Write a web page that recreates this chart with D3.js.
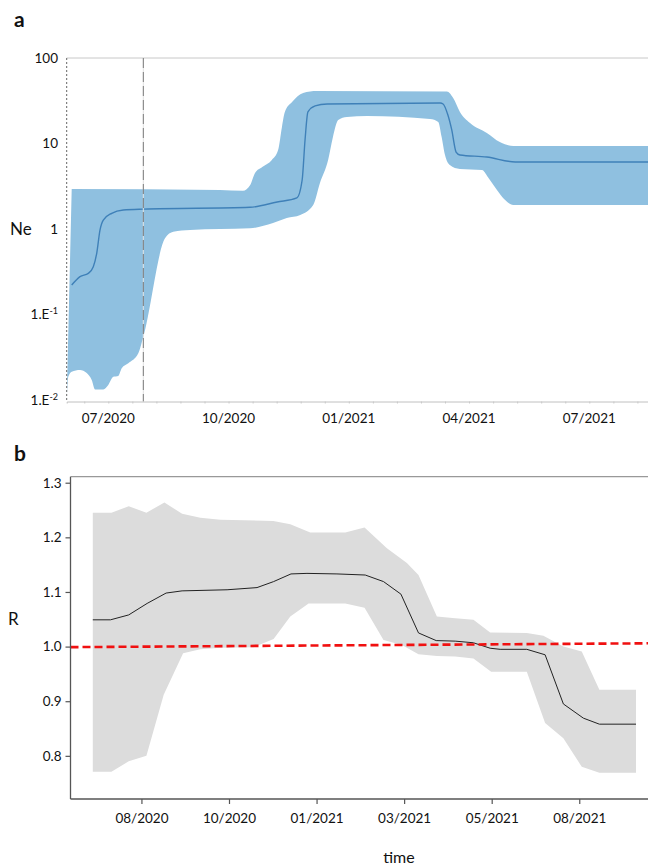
<!DOCTYPE html>
<html>
<head>
<meta charset="utf-8">
<script src="https://cdn.jsdelivr.net/npm/d3@7"></script>
<style>
  html, body { margin: 0; padding: 0; background: #fff; }
  svg { display: block; font-family: Lato, "Open Sans", sans-serif; }
</style>
</head>
<body>
<svg id="chart" width="648" height="868"></svg>
<script>
// ---------- Panel a: effective population size (Ne), log scale ----------
// Time in decimal years
const neUpper = [
  [2020.4239, 2.94], [2020.732, 2.86], [2020.780, 2.80], [2020.795, 3.27],
  [2020.805, 4.52], [2020.820, 5.31], [2020.840, 6.41], [2020.853, 8.39],
  [2020.861, 15.6], [2020.867, 23.4], [2020.882, 30.6], [2020.905, 39.0],
  [2020.934, 41.1], [2021.204, 40.5], [2021.217, 34.0], [2021.231, 23.4],
  [2021.252, 17.4], [2021.287, 13.3], [2021.314, 10.4], [2021.342, 9.35],
  [2021.622, 9.35]
];
const neLower = [
  [2020.4135, 0.0100], [2020.4168, 0.0187], [2020.4239, 0.0214], [2020.4412, 0.0224],
  [2020.4551, 0.0207], [2020.4655, 0.0171], [2020.4723, 0.0133], [2020.4896, 0.0133],
  [2020.5000, 0.0150], [2020.5104, 0.0187], [2020.5208, 0.0191], [2020.5279, 0.0235],
  [2020.5416, 0.0269], [2020.5624, 0.0352], [2020.5728, 0.055], [2020.6179, 0.778],
  [2020.6351, 0.93], [2020.670, 0.973], [2020.7946, 1.019], [2020.8424, 1.175],
  [2020.871, 1.345], [2020.899, 1.46], [2020.926, 1.91], [2020.940, 3.45],
  [2020.957, 6.41], [2020.967, 11.9], [2020.978, 18.8], [2020.996, 20.4],
  [2021.038, 21.0], [2021.169, 19.3], [2021.186, 17.8], [2021.193, 11.9],
  [2021.200, 7.34], [2021.210, 5.60], [2021.231, 5.03], [2021.277, 4.90],
  [2021.289, 4.06], [2021.308, 2.86], [2021.325, 2.18], [2021.342, 1.91],
  [2021.622, 1.91]
];
const neMean = [
  [2020.4239, 0.221], [2020.4412, 0.277], [2020.4584, 0.303], [2020.4688, 0.362],
  [2020.4759, 0.52], [2020.4827, 0.973], [2020.4896, 1.274], [2020.5071, 1.526],
  [2020.5312, 1.668], [2020.5728, 1.71], [2020.7946, 1.794], [2020.851, 2.07],
  [2020.892, 2.31], [2020.903, 3.74], [2020.909, 11.0], [2020.915, 23.4],
  [2020.930, 27.5], [2020.955, 29.0], [2021.190, 29.8], [2021.196, 29.0],
  [2021.206, 21.5], [2021.214, 14.4], [2021.223, 7.95], [2021.231, 7.34],
  [2021.287, 6.95], [2021.346, 6.08], [2021.622, 6.08]
];
const neMarkerTime = 2020.5728;
const neTicks = [0.01, 0.1, 1, 10, 100];
const neTickLabels = [["1.E", "-2"], ["1.E", "-1"], ["1", ""], ["10", ""], ["100", ""]];
const dateTicksA = [2020.5, 2020.75, 2021.0, 2021.25, 2021.5];
const dateLabelsA = ["07/2020", "10/2020", "01/2021", "04/2021", "07/2021"];

// ---------- Panel b: reproduction number (R) ----------
const rUpper = [
  [2020.4889, 1.245], [2020.5315, 1.245], [2020.571, 1.257], [2020.6114, 1.245],
  [2020.6525, 1.264], [2020.6929, 1.243], [2020.7346, 1.236], [2020.7803, 1.232],
  [2020.9012, 1.230], [2020.940, 1.224], [2020.9856, 1.209], [2021.0655, 1.209],
  [2021.1096, 1.218], [2021.1607, 1.180], [2021.2063, 1.153], [2021.2328, 1.131],
  [2021.2748, 1.055], [2021.3166, 1.052], [2021.3583, 1.049], [2021.3965, 1.026],
  [2021.4802, 1.025], [2021.5181, 1.020], [2021.5637, 1.000], [2021.6057, 0.991],
  [2021.6459, 0.921], [2021.7296, 0.921]
];
const rLower = [
  [2020.4889, 0.771], [2020.5315, 0.771], [2020.571, 0.790], [2020.6114, 0.800],
  [2020.6509, 0.912], [2020.6952, 0.988], [2020.7346, 0.995], [2020.7803, 0.998],
  [2020.8563, 0.999], [2020.9019, 1.014], [2020.940, 1.055], [2020.9818, 1.079],
  [2021.0655, 1.079], [2021.1096, 1.071], [2021.1529, 1.012], [2021.1949, 1.003],
  [2021.2328, 0.986], [2021.2748, 0.983], [2021.3166, 0.982], [2021.3583, 0.978],
  [2021.3987, 0.954], [2021.4802, 0.954], [2021.5220, 0.860], [2021.5637, 0.832],
  [2021.6057, 0.780], [2021.6459, 0.769], [2021.7296, 0.769]
];
const rMean = [
  [2020.4889, 1.049], [2020.5293, 1.049], [2020.571, 1.058], [2020.613, 1.079],
  [2020.6564, 1.098], [2020.6929, 1.102], [2020.7956, 1.104], [2020.864, 1.108],
  [2020.9019, 1.119], [2020.9416, 1.133], [2020.9781, 1.134], [2021.0466, 1.133],
  [2021.1112, 1.131], [2021.1529, 1.119], [2021.1927, 1.096], [2021.2328, 1.025],
  [2021.2732, 1.011], [2021.3166, 1.010], [2021.3583, 1.007], [2021.3965, 0.997],
  [2021.4193, 0.995], [2021.4802, 0.995], [2021.522, 0.985], [2021.5637, 0.895],
  [2021.6094, 0.869], [2021.6459, 0.858], [2021.7296, 0.858]
];
const rThreshold = [[2020.438, 0.999], [2021.757, 1.006]];
const rTicks = [0.8, 0.9, 1.0, 1.1, 1.2, 1.3];
const dateTicksB = [2020.6, 2020.8, 2021.0, 2021.2, 2021.4, 2021.6];
const dateLabelsB = ["08/2020", "10/2020", "01/2021", "03/2021", "05/2021", "08/2021"];

const svg = d3.select("#chart");

// ================= Panel a =================
const xA = d3.scaleLinear().domain([2020.4135, 2021.622]).range([66.7, 648]);
const yA = d3.scaleLog().domain([0.01, 100]).range([400, 58]);

svg.append("text").attr("x", 14).attr("y", 27)
  .attr("font-size", 21).attr("font-weight", "bold").attr("fill", "#111").text("a");

svg.append("clipPath").attr("id", "clipA").append("rect")
  .attr("x", 66.7).attr("y", 58).attr("width", 648 - 66.7).attr("height", 342);

const lineA = d3.line().x(d => xA(d[0])).y(d => yA(d[1])).curve(d3.curveMonotoneX);
const bandA = lineA(neUpper) + "L" + lineA(neLower.slice().reverse()).slice(1) + "Z";

const gA = svg.append("g").attr("clip-path", "url(#clipA)");
gA.append("path").attr("d", bandA).attr("fill", "#8fc0e0");
gA.append("path").attr("d", lineA(neMean))
  .attr("fill", "none").attr("stroke", "#3f80b8").attr("stroke-width", 1.4);

// frame: top border, dotted left edge, light bottom axis
svg.append("line").attr("x1", 66.7).attr("x2", 648).attr("y1", 58).attr("y2", 58)
  .attr("stroke", "#c8c8c8").attr("stroke-width", 1);
svg.append("line").attr("x1", 66.7).attr("x2", 66.7).attr("y1", 58).attr("y2", 401.5)
  .attr("stroke", "#666").attr("stroke-width", 1).attr("stroke-dasharray", "2,2");

// vertical marker line
svg.append("line")
  .attr("x1", xA(neMarkerTime)).attr("x2", xA(neMarkerTime))
  .attr("y1", 58).attr("y2", 401.5)
  .attr("stroke", "#e2e2e2").attr("stroke-width", 1);
svg.append("line")
  .attr("x1", xA(neMarkerTime)).attr("x2", xA(neMarkerTime))
  .attr("y1", 58).attr("y2", 401.5)
  .attr("stroke", "#555").attr("stroke-opacity", 0.75).attr("stroke-width", 1)
  .attr("stroke-dasharray", "10,4");

// bottom axis with minor ticks every 0.05 year
const minorA = d3.range(2020.45, 2021.62, 0.05);
const axA = svg.append("g").attr("transform", "translate(0,401.5)")
  .call(d3.axisBottom(xA).tickValues(minorA).tickSize(2).tickFormat(""));
axA.select(".domain").attr("stroke", "#c0c0c0");
axA.selectAll(".tick line").attr("stroke", "#c8c8c8");

svg.append("g").selectAll("text").data(dateTicksA).join("text")
  .attr("x", d => xA(d)).attr("y", 423)
  .attr("text-anchor", "middle").attr("font-size", 13.5).attr("fill", "#111")
  .text((d, i) => dateLabelsA[i]);

// y labels with superscript exponents
const yLab = svg.append("g").selectAll("text").data(neTicks).join("text")
  .attr("x", 58).attr("y", d => yA(d) + 4.5)
  .attr("text-anchor", "end").attr("font-size", 13.5).attr("fill", "#111");
yLab.each(function (d, i) {
  const t = d3.select(this);
  t.append("tspan").text(neTickLabels[i][0]);
  if (neTickLabels[i][1]) {
    t.append("tspan").attr("font-size", 9).attr("dy", -5).text(neTickLabels[i][1]);
  }
});

svg.append("text").attr("x", 10).attr("y", yA(1) + 6)
  .attr("font-size", 17).attr("fill", "#111").text("Ne");

// ================= Panel b =================
const xB = d3.scaleLinear().domain([2020.438, 2021.757]).range([70.5, 648]);
const yB = d3.scaleLinear().domain([0.721, 1.311]).range([799, 476.7]);

svg.append("text").attr("x", 14).attr("y", 461)
  .attr("font-size", 21).attr("font-weight", "bold").attr("fill", "#111").text("b");

const lineB = d3.line().x(d => xB(d[0])).y(d => yB(d[1]));
const bandB = lineB(rUpper) + "L" + lineB(rLower.slice().reverse()).slice(1) + "Z";
svg.append("path").attr("d", bandB).attr("fill", "#dcdcdc");
svg.append("path").attr("d", lineB(rMean))
  .attr("fill", "none").attr("stroke", "#222").attr("stroke-width", 1);

svg.append("path").attr("d", lineB(rThreshold))
  .attr("fill", "none").attr("stroke", "#f01010").attr("stroke-width", 2.6)
  .attr("stroke-dasharray", "8,4");

// frame
svg.append("line").attr("x1", 70.5).attr("x2", 648).attr("y1", 476.7).attr("y2", 476.7)
  .attr("stroke", "#999").attr("stroke-width", 1.3);

const axBy = svg.append("g").attr("transform", "translate(70.5,0)")
  .call(d3.axisLeft(yB).tickValues(rTicks).tickSize(5).tickPadding(4).tickFormat(d3.format(".1f")));
axBy.select(".domain").attr("stroke", "#555").attr("stroke-width", 1.3)
  .attr("d", "M0,476.7V799");
axBy.selectAll(".tick line").attr("stroke", "#555").attr("stroke-width", 1.2);
axBy.selectAll(".tick text").attr("font-size", 13.5).attr("fill", "#111")
  .attr("font-family", "Lato, 'Open Sans', sans-serif");

const axBx = svg.append("g").attr("transform", "translate(0,799)")
  .call(d3.axisBottom(xB).tickValues(dateTicksB).tickSize(5).tickPadding(9)
    .tickFormat((d, i) => dateLabelsB[i]));
axBx.select(".domain").attr("stroke", "#555").attr("stroke-width", 1.3)
  .attr("d", "M70.5,0H648");
axBx.selectAll(".tick line").attr("stroke", "#555").attr("stroke-width", 1.2);
axBx.selectAll(".tick text").attr("font-size", 13.5).attr("fill", "#111")
  .attr("font-family", "Lato, 'Open Sans', sans-serif");

svg.append("text").attr("x", 8).attr("y", yB(1.05) + 6)
  .attr("font-size", 17).attr("fill", "#111").text("R");

svg.append("text").attr("x", 399).attr("y", 863)
  .attr("text-anchor", "middle").attr("font-size", 16).attr("fill", "#111").text("time");
</script>
</body>
</html>
